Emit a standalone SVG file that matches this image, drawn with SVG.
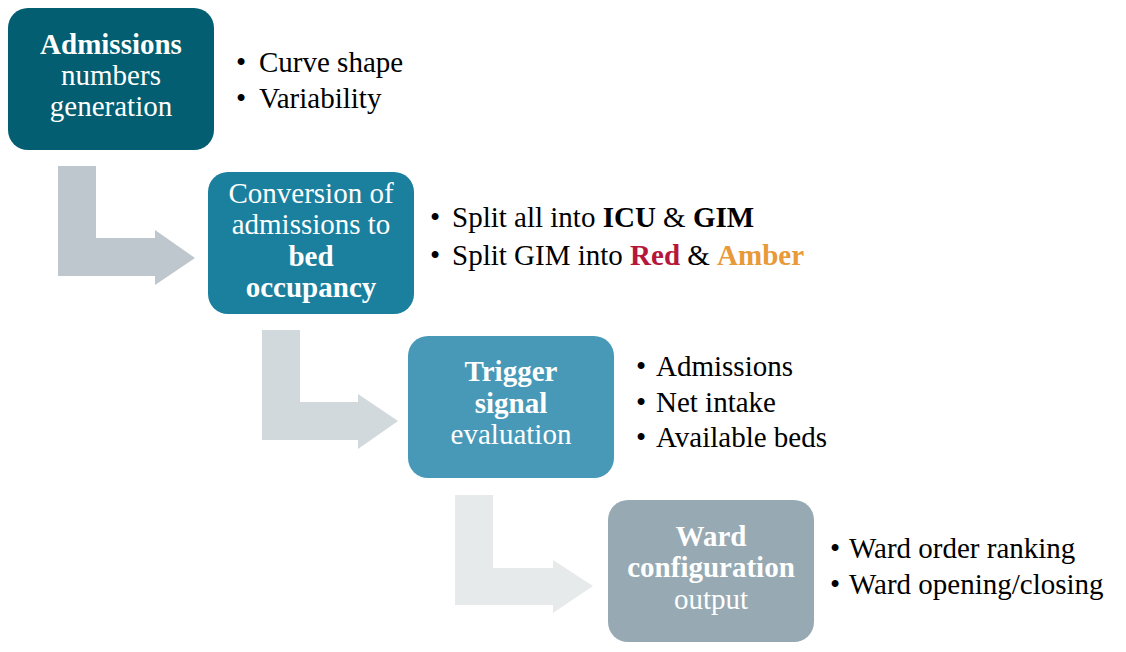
<svg xmlns="http://www.w3.org/2000/svg" width="1126" height="652" viewBox="0 0 1126 652">
<style>
text{font-family:"Liberation Serif","DejaVu Serif",serif;font-size:29px}
.w{fill:#ffffff;text-anchor:middle}
.b{font-weight:bold}
.k{fill:#000000}
</style>
<rect width="1126" height="652" fill="#ffffff"/>
<g id="connectors">
<path d="M58 166 H96 V238 H155 V230 L195 258 L155 285 V276 H58 Z" fill="#bec7cd"/>
<path d="M262 330 H300 V402 H358 V394 L398 421 L358 449 V440 H262 Z" fill="#d2d9dc"/>
<path d="M455 495 H493 V568 H553 V560 L593 586 L553 613 V605 H455 Z" fill="#e7eaeb"/>
</g>
<g id="node1">
<rect x="8" y="8" width="206" height="142" rx="20" fill="#025e70"/>
<text class="w b" x="111" y="54">Admissions</text>
<text class="w" x="111" y="85">numbers</text>
<text class="w" x="111" y="116">generation</text>
</g>
<g id="notes1">
<text class="k" x="236" y="72">•</text><text class="k" x="259" y="72">Curve shape</text>
<text class="k" x="236" y="108">•</text><text class="k" x="259" y="108">Variability</text>
</g>
<g id="node2">
<rect x="208" y="172" width="206" height="142" rx="20" fill="#1b7f9e"/>
<text class="w" x="311" y="203">Conversion of</text>
<text class="w" x="311" y="234">admissions to</text>
<text class="w b" x="311" y="266">bed</text>
<text class="w b" x="311" y="297">occupancy</text>
</g>
<g id="notes2">
<text class="k" x="430" y="227">•</text><text class="k" x="452" y="227">Split all into <tspan class="b">ICU</tspan> &amp; <tspan class="b">GIM</tspan></text>
<text class="k" x="430" y="265">•</text><text class="k" x="452" y="265">Split GIM into <tspan class="b" fill="#b5163b">Red</tspan> &amp; <tspan class="b" fill="#e8993a">Amber</tspan></text>
</g>
<g id="node3">
<rect x="408" y="336" width="206" height="142" rx="20" fill="#4899b8"/>
<text class="w b" x="511" y="381">Trigger</text>
<text class="w b" x="511" y="413">signal</text>
<text class="w" x="511" y="444">evaluation</text>
</g>
<g id="notes3">
<text class="k" x="636" y="376">•</text><text class="k" x="656" y="376">Admissions</text>
<text class="k" x="636" y="412">•</text><text class="k" x="656" y="412">Net intake</text>
<text class="k" x="636" y="447">•</text><text class="k" x="656" y="447">Available beds</text>
</g>
<g id="node4">
<rect x="608" y="500" width="206" height="142" rx="20" fill="#97aab3"/>
<text class="w b" x="711" y="546">Ward</text>
<text class="w b" x="711" y="577">configuration</text>
<text class="w" x="711" y="609">output</text>
</g>
<g id="notes4">
<text class="k" x="830" y="558">•</text><text class="k" x="849" y="558">Ward order ranking</text>
<text class="k" x="830" y="594">•</text><text class="k" x="849" y="594">Ward opening/closing</text>
</g>
</svg>
